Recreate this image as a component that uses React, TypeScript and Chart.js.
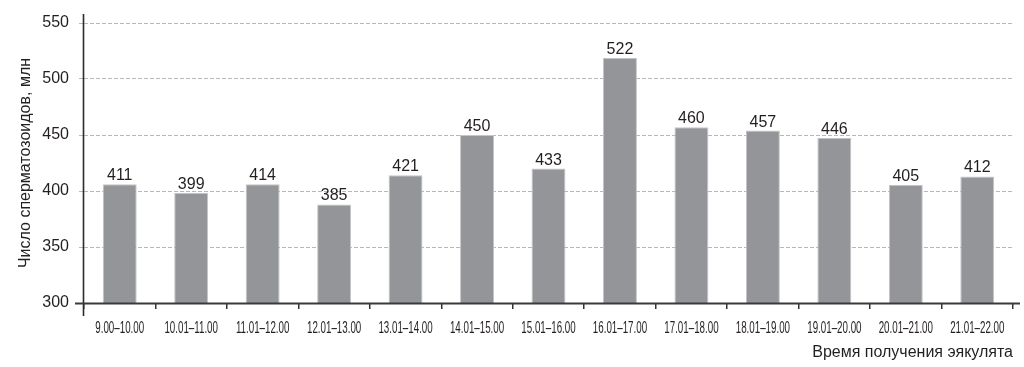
import React, { useEffect, useRef } from "react";
import { Chart, registerables } from "chart.js";

Chart.register(...registerables);

const categories = [
  "9.00–10.00",
  "10.01–11.00",
  "11.01–12.00",
  "12.01–13.00",
  "13.01–14.00",
  "14.01–15.00",
  "15.01–16.00",
  "16.01–17.00",
  "17.01–18.00",
  "18.01–19.00",
  "19.01–20.00",
  "20.01–21.00",
  "21.01–22.00",
];

// bar heights as drawn in the picture
const barValues = [406, 398.5, 406, 388, 414, 450, 420, 519, 457, 454, 447.5, 405.5, 413];
// numbers printed above the bars
const valueLabels = ["411", "399", "414", "385", "421", "450", "433", "522", "460", "457", "446", "405", "412"];

const yTicks = [300, 350, 400, 450, 500, 550];

const yTitle = "Число сперматозоидов, млн";
const xTitle = "Время получения эякулята";

const TEXT = "#231f20";
const SANS = '"Liberation Sans", Arial, Helvetica, sans-serif';

const valueLabelPlugin = {
  id: "valueLabels",
  afterDatasetsDraw(chart: any) {
    const ctx = chart.ctx;
    const meta = chart.getDatasetMeta(0);
    ctx.save();
    ctx.font = `16px ${SANS}`;
    ctx.fillStyle = TEXT;
    ctx.textAlign = "center";
    ctx.textBaseline = "alphabetic";
    meta.data.forEach((bar: any, i: number) => {
      ctx.fillText(valueLabels[i], bar.x, bar.y - 4);
    });
    ctx.restore();
  },
};

// condensed category labels, placed at the x scale's tick positions
const condensedTickPlugin = {
  id: "condensedTicks",
  afterDraw(chart: any) {
    const ctx = chart.ctx;
    const xScale = chart.scales.x;
    const labels = chart.data.labels as string[];
    ctx.save();
    ctx.font = `16px ${SANS}`;
    ctx.fillStyle = TEXT;
    ctx.textAlign = "center";
    ctx.textBaseline = "middle";
    labels.forEach((lab, i) => {
      const x = xScale.getPixelForTick(i);
      ctx.save();
      ctx.translate(x, xScale.top + 26);
      ctx.scale(0.61, 1);
      ctx.fillText(lab, 0, 0);
      ctx.restore();
    });
    ctx.restore();
  },
};

const axisLinePlugin = {
  id: "axisLines",
  afterDraw(chart: any) {
    const { ctx, chartArea } = chart;
    ctx.save();
    ctx.strokeStyle = "#2b2b2b";
    ctx.lineWidth = 1.6;
    ctx.beginPath();
    ctx.moveTo(chartArea.left - 0.5, chartArea.top - 9);
    ctx.lineTo(chartArea.left - 0.5, chartArea.bottom + 13);
    ctx.stroke();
    ctx.strokeStyle = "#3a3a3a";
    ctx.lineWidth = 2;
    ctx.beginPath();
    ctx.moveTo(chartArea.left - 9, chartArea.bottom + 0.5);
    ctx.lineTo(chartArea.right + 7, chartArea.bottom + 0.5);
    ctx.stroke();
    ctx.restore();
  },
};

export default function App() {
  const canvasRef = useRef<HTMLCanvasElement | null>(null);

  useEffect(() => {
    if (!canvasRef.current) return;
    const chart = new Chart(canvasRef.current, {
      type: "bar",
      data: {
        labels: categories,
        datasets: [
          {
            data: barValues,
            backgroundColor: "#939598",
            borderColor: "#c4c5c7",
            borderWidth: 1,
            barPercentage: 0.475,
            categoryPercentage: 1,
          },
        ],
      },
      options: {
        animation: false,
        responsive: false,
        layout: { padding: { top: 23, right: 11, left: 0, bottom: 0 } },
        plugins: {
          legend: { display: false },
          tooltip: { enabled: false },
        },
        scales: {
          x: {
            afterFit(scale: any) {
              scale.height = 64;
            },
            grid: {
              display: true,
              drawOnChartArea: false,
              drawTicks: true,
              tickLength: 6,
              color: "#333333",
              lineWidth: 1.5,
              offset: true,
            },
            border: { display: false },
            ticks: {
              display: false,
              autoSkip: false,
              maxRotation: 0,
              minRotation: 0,
            },
            title: {
              display: true,
              text: xTitle,
              align: "end",
              color: TEXT,
              font: { family: SANS, size: 16 },
              padding: { top: 0, bottom: 5 },
            },
          },
          y: {
            min: yTicks[0],
            max: yTicks[yTicks.length - 1],
            afterFit(scale: any) {
              scale.width = 84;
            },
            afterBuildTicks(scale: any) {
              scale.ticks = yTicks.map((v) => ({ value: v }));
            },
            grid: {
              color: (c: any) => (c.tick && c.tick.value === 300 ? "rgba(0,0,0,0)" : "#b8b8b8"),
              lineWidth: 1,
              tickLength: 5,
              tickBorderDash: [4, 2],
            },
            border: { display: false, dash: [4, 2] },
            ticks: {
              padding: 10,
              color: TEXT,
              font: { family: SANS, size: 16 },
            },
            title: {
              display: true,
              text: yTitle,
              color: TEXT,
              font: { family: SANS, size: 16 },
              padding: { top: 16, bottom: 0 },
            },
          },
        },
      },
      plugins: [valueLabelPlugin, condensedTickPlugin, axisLinePlugin],
    });
    return () => chart.destroy();
  }, []);

  return (
    <div style={{ position: "fixed", left: 0, top: 0, width: 1024, height: 367, background: "#fff" }}>
      <canvas ref={canvasRef} width={1024} height={367} />
    </div>
  );
}
